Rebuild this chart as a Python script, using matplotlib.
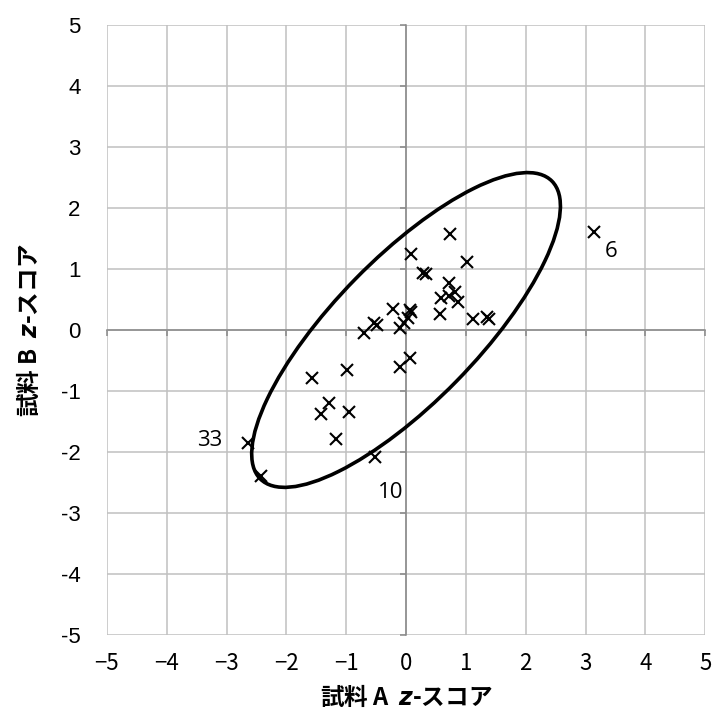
import matplotlib
matplotlib.use("Agg")
import matplotlib.pyplot as plt
from matplotlib.patches import Ellipse
import numpy as np

plt.rcParams["mathtext.fontset"] = "custom"
plt.rcParams["mathtext.bfit"] = "DejaVu Sans:bold:italic"

# z-scores of each lab, sample A vs sample B
za = [0.74, 0.09, 1.02, 0.29, 0.34, 0.71, 0.82, 0.71, 0.59, 0.87,
      0.57, 1.12, 1.36, 1.39, -0.21, 0.07, 0.09, 0.04, -0.04, -0.10,
      -0.71, -0.53, -0.49, -0.99, -0.10, 0.07, -1.58, -1.29, -1.43, -0.96,
      -1.17, -2.64, -0.52, -2.42, 3.15]
zb = [1.57, 1.24, 1.11, 0.93, 0.91, 0.77, 0.63, 0.55, 0.52, 0.46,
      0.27, 0.18, 0.21, 0.18, 0.35, 0.33, 0.30, 0.19, 0.11, 0.03,
      -0.05, 0.11, 0.08, -0.66, -0.60, -0.46, -0.78, -1.19, -1.38, -1.34,
      -1.79, -1.85, -2.09, -2.40, 1.61]

# labelled outliers: lab number, index into za/zb
lab_ids = ["6", "33", "10"]
lab_idx = [34, 31, 32]

# confidence ellipse (semi-axes along the 45 degree direction)
ell_a = 3.45
ell_b = 1.19
ell_angle = 45

ticks = list(range(-5, 6))
xtick_labels = [str(t).replace("-", "\u2212") for t in ticks]
ytick_labels = [str(t) for t in ticks]

fig = plt.figure(figsize=(7.13, 7.15), dpi=100)
ax = fig.add_axes([0.150, 0.112, 0.839, 0.853])
ax.set_xlim(-5, 5)
ax.set_ylim(-5, 5)

ax.set_xticks(ticks)
ax.set_yticks(ticks)
ax.grid(True, color="#c0c0c0", linewidth=1.1)
ax.set_axisbelow(True)
for s in ["top", "right"]:
    ax.spines[s].set_visible(False)
ax.spines["left"].set_position(("data", 0))
ax.spines["bottom"].set_position(("data", 0))
ax.spines["left"].set_color("#888888")
ax.spines["bottom"].set_color("#888888")
ax.spines["left"].set_linewidth(1.1)
ax.spines["bottom"].set_linewidth(1.1)
ax.tick_params(direction="out", length=4, width=1.1, color="#888888",
               labelbottom=False, labelleft=False)

# tick labels sit at the frame edge, away from the zero axes
secx = ax.secondary_xaxis(0)
secx.set_xticks(ticks, xtick_labels, fontname="Noto Sans CJK JP", fontsize=16)
secx.tick_params(length=0, pad=12)
secx.spines["bottom"].set_visible(False)
secy = ax.secondary_yaxis(0)
secy.set_yticks(ticks, ytick_labels, fontname="Liberation Sans", fontsize=16)
secy.tick_params(length=0, pad=19)
secy.spines["left"].set_visible(False)

ax.add_patch(Ellipse((0, 0), 2 * ell_a, 2 * ell_b, angle=ell_angle,
                     fill=False, edgecolor="black", linewidth=2.6, zorder=3))

ax.plot(za, zb, linestyle="none", marker="x", markersize=9,
        markeredgewidth=1.5, color="black", zorder=4)

offsets = {"6": (12, -14), "33": (-28, 2), "10": (11, -25)}
for name, i in zip(lab_ids, lab_idx):
    ax.annotate(name, (za[i], zb[i]), xytext=offsets[name],
                textcoords="offset points", ha="center", va="center",
                fontname="Open Sans", fontsize=16, zorder=5)

ax.set_xlabel("試料 A  $\\mathbfit{z}$-スコア", fontname="Noto Sans CJK JP",
              fontweight="bold", fontsize=17)
ax.set_ylabel("試料 B  $\\mathbfit{z}$-スコア", fontname="Noto Sans CJK JP",
              fontweight="bold", fontsize=17)
ax.xaxis.set_label_coords(0.5, -0.080)
ax.yaxis.set_label_coords(-0.108, 0.5)

fig.savefig("out.png", dpi=100)
